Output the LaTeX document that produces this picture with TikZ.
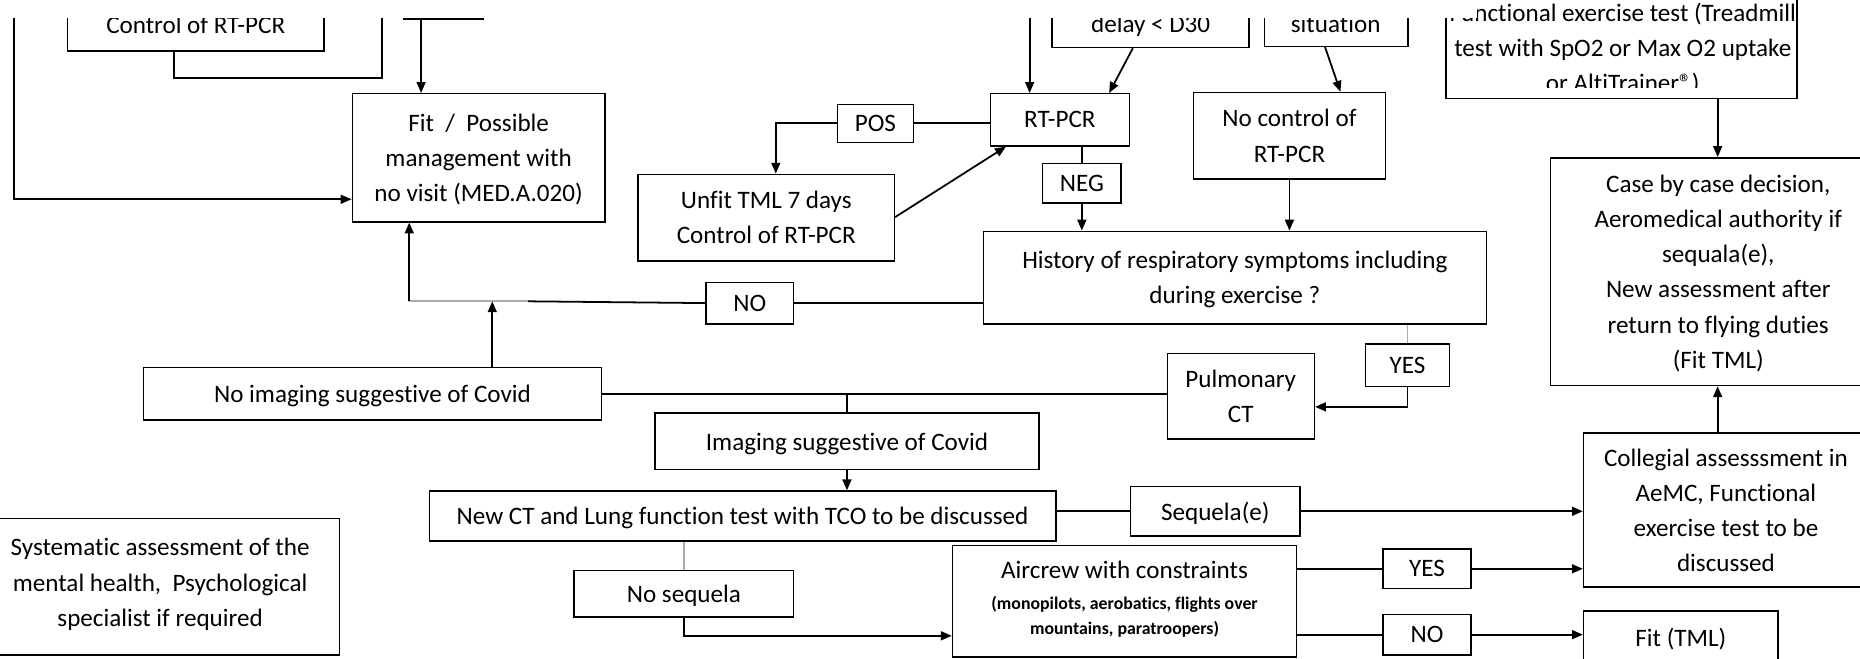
\documentclass[tikz,border=0pt]{standalone}
\usepackage{fontspec}
\setmainfont{Carlito}[Ligatures=NoCommon]
\usetikzlibrary{arrows.meta}
\begin{document}
\begin{tikzpicture}[x=0.6pt,y=-0.6pt,
  font=\fontsize{12.7}{17.8}\selectfont,
  box/.style={draw, line width=0.75pt, inner sep=0pt, align=center, text depth=0pt},
  sz/.style 2 args={minimum width=#1*0.6pt, minimum height=#2*0.6pt},
  txt/.style={inner sep=0pt, align=center, text depth=0pt},
  conn/.style={line width=0.9pt},
  arr/.style={conn, -{Triangle[length=5.5pt,width=4.5pt]}},
  gconn/.style={conn, draw=gray!65}]
\useasboundingbox (0,0) rectangle (1568,555);
\clip (0,0) rectangle (1568,555);

% ---- boxes ----
\node[box, sz={216}{83}] (ctrl) at (165,1.5) {};
\node[txt] (ctrltxt) at (165,21) {Control of RT-PCR};
\node[box, sz={213}{108}] (fit) at (403.5,133) {Fit \ / \ Possible\\management with\\no visit (MED.A.020)};
\node[box, sz={166}{80}] (delay) at (970,0) {};
\node[txt] (delaytxt) at (970,20) {delay < D30};
\node[box, sz={121}{79}] (sit) at (1126.5,-0.5) {};
\node[txt] (sittxt) at (1126,20) {situation};
\node[box, sz={296}{128}] (func) at (1367,19) {};
\begin{scope}
\clip (1219,-5) rectangle (1515,74);
\node[txt] (functxt) at (1368,40) {Functional exercise test (Treadmill\\test with SpO2 or Max O2 uptake\\or AltiTrainer®)};
\end{scope}
\node[box, sz={117}{44}] (rtpcr) at (893.5,101) {RT-PCR};
\node[box, sz={64}{32}] (pos) at (738,104) {POS};
\node[box, sz={162}{73}] (noctrl) at (1087,114.5) {No control of\\RT-PCR};
\node[box, sz={216}{73}] (unfit) at (646,183.5) {Unfit TML 7 days\\Control of RT-PCR};
\node[box, sz={66}{33}] (neg) at (912,154.5) {NEG};
\node[box, sz={424}{78}] (hist) at (1041,234) {History of respiratory symptoms including\\during exercise ?};
\node[box, sz={74}{35}] (noA) at (632,255.5) {NO};
\node[box, sz={283}{192}] (case) at (1448.5,229) {Case by case decision,\\Aeromedical authority if\\sequala(e),\\New assessment after\\return to flying duties\\(Fit TML)};
\node[box, sz={71}{36}] (yesA) at (1186.5,308) {YES};
\node[box, sz={124}{72}] (pulm) at (1046,334) {Pulmonary\\CT};
\node[box, sz={386}{44}] (noimg) at (314,332) {No imaging suggestive of Covid};
\node[box, sz={324}{48}] (img) at (714,372) {Imaging suggestive of Covid};
\node[box, sz={240}{130}] (coll) at (1455,430) {Collegial assesssment in\\AeMC, Functional\\exercise test to be\\discussed};
\node[box, sz={528}{42}] (newct) at (626,435) {New CT and Lung function test with TCO to be discussed};
\node[box, sz={143}{42}] (seq) at (1024.5,431) {Sequela(e)};
\node[box, sz={302}{115}] (sys) at (135,494.5) {};
\node[txt] (systxt) at (135,491) {Systematic assessment of the\\mental health, \ Psychological\\specialist if required};
\node[box, sz={290}{94}] (air) at (948,507) {};
\node[txt] (airtxt) at (948,504) {Aircrew with constraints\\[-2.2pt]
  {\fontsize{9}{12}\selectfont\bfseries (monopilots, aerobatics, flights over}\\[-5.2pt]
  {\fontsize{9}{12}\selectfont\bfseries mountains, paratroopers)}};
\node[box, sz={185}{39}] (noseq) at (576.5,500.5) {No sequela};
\node[box, sz={74}{33}] (yesB) at (1203,479.5) {YES};
\node[box, sz={74}{34}] (noB) at (1203,535) {NO};
\node[box, sz={164}{45}] (fittml) at (1417,537.5) {Fit (TML)};

% ---- free ends ----
\coordinate (ltop) at (12,-5);
\coordinate (rtop) at (322,-5);
\coordinate (tl1) at (340,16);
\coordinate (tl2) at (408,16);
\coordinate (rtin) at (868,-5);
\coordinate (gj) at (445,254);

% ---- connectors ----
\draw[arr] (ltop) |- (fit.west |- 0,168);
\draw[conn] (ctrl.south -| 147,0) -- ++(0,22) -| (rtop);
\draw[conn] (tl1) -- (tl2);
\draw[arr] (tl1 -| 355,0) -- (fit.north -| 355,0);
\draw[conn] (noA.west) -- (gj);
\draw[gconn] (gj) -- (gj -| 345,0);
\draw[arr] (gj -| 345,0) -- (fit.south -| 345,0);
\draw[arr] (noimg.north -| 415,0) -- (gj -| 415,0);
\draw[conn] (noA.east) -- (hist.west |- noA.east);
\draw[arr] (rtin) -- (rtpcr.north -| rtin);
\draw[arr] (delay.south -| 955,0) -- (rtpcr.north -| 935,0);
\draw[arr] (sit.south -| 1117,0) -- (noctrl.north -| 1130,0);
\draw[conn] (pos.east) -- (rtpcr.west |- pos.east);
\draw[arr] (pos.west) -| (unfit.north -| 654,0);
\draw[arr] (unfit.east |- 0,183) -- (rtpcr.south -| 848,0);
\draw[conn] (neg.north |- rtpcr.south) -- (neg.north);
\draw[arr] (neg.south) -- (hist.north -| neg.south);
\draw[arr] (noctrl.south) -- (hist.north -| noctrl.south);
\draw[gconn] (hist.south -| yesA.north) -- (yesA.north);
\draw[arr] (yesA.south) |- (pulm.east |- 0,343);
\draw[conn] (noimg.east) -- (pulm.west |- noimg.east);
\draw[conn] (img.north) -- (img.north |- noimg.east);
\draw[arr] (img.south) -- (newct.north -| img.south);
\draw[conn] (seq.west -| newct.east) -- (seq.west);
\draw[arr] (seq.east) -- (coll.west |- seq.east);
\draw[gconn] (newct.south -| noseq.north) -- (noseq.north);
\draw[arr] (noseq.south) |- (air.west |- 0,536);
\draw[conn] (air.east |- yesB.west) -- (yesB.west);
\draw[arr] (yesB.east) -- (coll.west |- yesB.east);
\draw[conn] (air.east |- noB.west) -- (noB.west);
\draw[arr] (noB.east) -- (fittml.west |- noB.east);
\draw[arr] (coll.north -| 1448,0) -- (case.south -| 1448,0);
\draw[arr] (func.south -| 1448,0) -- (case.north -| 1448,0);

% white band along the top edge of the scan
\fill[white] (-2,-2) rectangle (1245,15);
\end{tikzpicture}
\end{document}
